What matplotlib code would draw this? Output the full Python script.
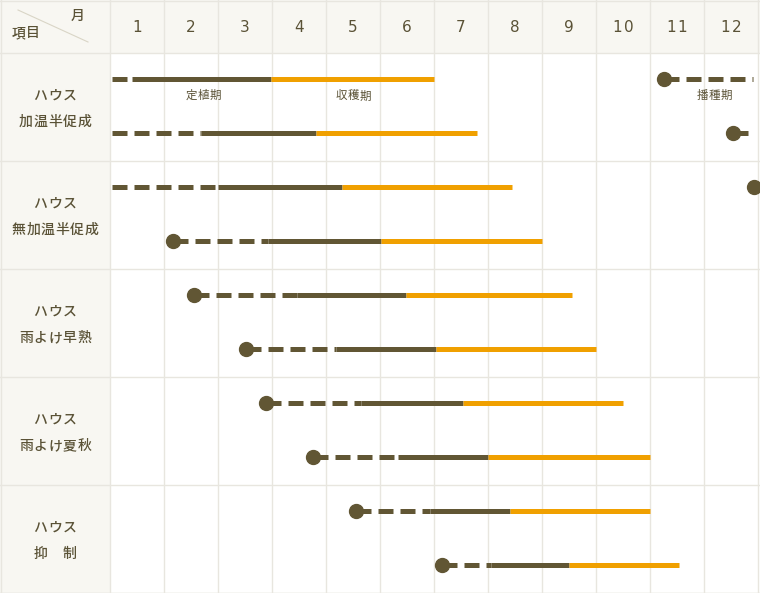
import matplotlib.pyplot as plt
from matplotlib.patches import Rectangle

plt.rcParams['font.family'] = ['Noto Sans CJK JP', 'DejaVu Sans']
plt.rcParams['lines.scale_dashes'] = False

# months along the x axis (0 = start of January, 12 = end of December)
months = [str(m) for m in range(1, 13)]
groups = ['ハウス\n加温半促成', 'ハウス\n無加温半促成', 'ハウス\n雨よけ早熟',
          'ハウス\n雨よけ夏秋', 'ハウス\n抑　制']

# one entry per bar (two bars per group)
sow = [10.26, 11.54, 11.93, 1.17, 1.56, 2.52, 2.89, 3.76, 4.56, 6.15]
plant = [0.41, 1.69, 2.0, 2.93, 3.46, 4.19, 4.65, 5.33, 5.93, 7.06]
harvest_start = [2.98, 3.81, 4.30, 5.02, 5.48, 6.04, 6.54, 7.0, 7.41, 8.5]
harvest_end = [6.0, 6.80, 7.44, 8.0, 8.56, 9.0, 9.5, 10.0, 10.0, 10.54]

DARK = '#615634'
ORANGE = '#f0a000'
GRID = '#e8e6df'
BG = '#f8f7f2'
TXT = '#5a5236'

colw = 54.0          # px per month
left = 110 / colw    # width of label column, in months
head = 53            # header height px
rowh = 108           # group height px

fig = plt.figure(figsize=(7.6, 5.93), dpi=100)
ax = fig.add_axes([0, 0, 1, 1])
ax.set_xlim(-left, 12 + 2 / colw)
ax.set_ylim(593, 0)
ax.axis('off')


def spaced(xc, y, s, pitch, size, weight='normal'):
    # centre a string with extra letter spacing (pitch in px)
    n = len(s)
    for k, ch in enumerate(s):
        x = xc + (k - (n - 1) / 2) * pitch / colw
        ax.text(x, y, ch, ha='center', va='center', fontsize=size,
                color=TXT, fontweight=weight)


# backgrounds
ax.add_patch(Rectangle((-left, 0), left, 593, color=BG, lw=0, zorder=0))
ax.add_patch(Rectangle((0, 0), 13, head, color=BG, lw=0, zorder=0))

# grid
for m in range(0, 13):
    ax.plot([m, m], [0, 593], color=GRID, lw=1, zorder=1)
for g in range(len(groups) + 1):
    y = head + rowh * g
    ax.plot([-left, 13], [y, y], color=GRID, lw=1, zorder=1)
ax.plot([-left, 13], [0.5, 0.5], color=GRID, lw=1, zorder=1)
ax.plot([-left + 0.01, -left + 0.01], [0, 593], color=GRID, lw=1, zorder=1)
ax.plot([-left, 13], [592.5, 592.5], color=GRID, lw=1, zorder=1)

# header
for i, m in enumerate(months):
    if len(m) == 1:
        ax.text(i + 0.5, 27, m, ha='center', va='center', fontsize=11,
                color=TXT, family='DejaVu Sans')
    else:
        for k, ch in enumerate(m):
            ax.text(i + 0.5 + (k - 0.5) * 11 / colw, 27, ch, ha='center',
                    va='center', fontsize=11, color=TXT, family='DejaVu Sans')
ax.plot([(18 - 110) / colw, (88 - 110) / colw], [10, 42], color='#d9d5c6', lw=0.8)
spaced((78 - 110) / colw, 16, '月', 14, 10, 'medium')
spaced((26 - 110) / colw, 33, '項目', 14.5, 10, 'medium')

# group labels
for g, name in enumerate(groups):
    top, bottom = name.split('\n')
    yc = head + rowh * g
    spaced(-left / 2, yc + 43, top, 15, 10, 'medium')
    spaced(-left / 2, yc + 69, bottom, 14.6, 10, 'medium')

lw = 5 * 0.72
dash = (15 * 0.72, 7 * 0.72)
for i in range(len(sow)):
    y = head + rowh * (i // 2) + (26 if i % 2 == 0 else 80)
    if sow[i] > plant[i]:
        segs = [(sow[i], 11.9), (0.03, plant[i])]
    else:
        segs = [(sow[i], plant[i])]
    for a, b in segs:
        ax.plot([a, b], [y, y], color=DARK, lw=lw, dashes=dash,
                solid_capstyle='butt', dash_capstyle='butt', zorder=3)
    ax.plot([plant[i], harvest_start[i]], [y, y], color=DARK, lw=lw,
            solid_capstyle='butt', zorder=3)
    ax.plot([harvest_start[i], harvest_end[i]], [y, y], color=ORANGE, lw=lw,
            solid_capstyle='butt', zorder=3)
    ax.plot([sow[i]], [y], 'o', color=DARK, ms=10, zorder=4, clip_on=True)

# period labels
spaced((203 - 110) / colw, 95, '定植期', 12, 8.3)
spaced((353 - 110) / colw, 96, '収穫期', 12, 8.3)
spaced((714 - 110) / colw, 95, '播種期', 12, 8.3)

fig.savefig('out.png', dpi=100)
